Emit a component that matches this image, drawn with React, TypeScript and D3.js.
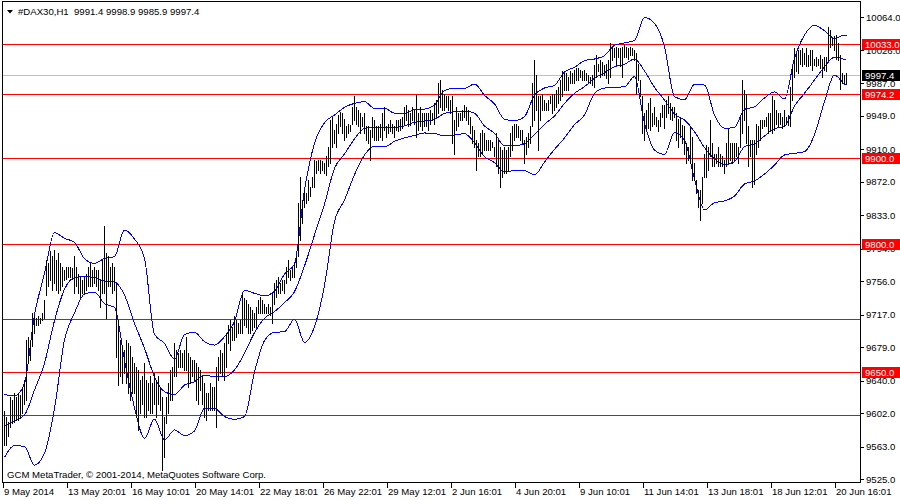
import React from "react";
import * as d3 from "d3";

// ---- data (DAX30, H1) ----
const highs = [
  9604, 9598, 9592, 9621, 9617, 9625, 9621, 9625, 9623, 9633,
  9641, 9687, 9691, 9687, 9719, 9715, 9713, 9715, 9713, 9719,
  9734, 9781, 9777, 9791, 9785, 9793, 9781, 9789, 9777, 9773,
  9769, 9773, 9773, 9773, 9771, 9785, 9773, 9765, 9761, 9758,
  9761, 9765, 9773, 9777, 9769, 9773, 9769, 9769, 9758, 9781,
  9820, 9789, 9785, 9773, 9777, 9773, 9754, 9711, 9687, 9680,
  9676, 9687, 9684, 9680, 9668, 9660, 9656, 9652, 9641, 9645,
  9660, 9641, 9637, 9645, 9637, 9649, 9641, 9645, 9633, 9621,
  9598, 9621, 9637, 9652, 9656, 9684, 9676, 9672, 9676, 9672,
  9676, 9691, 9672, 9668, 9664, 9664, 9660, 9656, 9652, 9645,
  9637, 9625, 9625, 9637, 9633, 9633,
  9656, 9668, 9676, 9672,
  9684, 9695, 9705, 9711, 9703, 9715, 9711, 9707, 9711, 9742,
  9736, 9734, 9730, 9726, 9722, 9719, 9726, 9734, 9738, 9734,
  9730, 9726, 9730, 9726, 9742, 9754, 9758, 9761, 9754, 9758,
  9758, 9773, 9781, 9769, 9773, 9777, 9785, 9847, 9878, 9851,
  9863, 9859, 9874, 9866, 9878, 9898, 9896, 9898, 9898, 9896,
  9894, 9902, 9913, 9944, 9948, 9933, 9940, 9950, 9954, 9952,
  9946, 9937, 9940, 9938, 9960, 9972, 9960, 9956, 9952, 9948,
  9952, 9937, 9937, 9933, 9948, 9944, 9937, 9937, 9940, 9952,
  9960, 9937, 9940, 9944, 9940, 9937, 9944, 9944, 9946, 9948,
  9960, 9962, 9956, 9952, 9960, 9956, 9974, 9952, 9960, 9952,
  9952, 9952, 9952, 9956, 9952, 9964, 9968, 9987, 9991, 9979,
  9975, 9972, 9972, 9968, 9972, 9944, 9960, 9952, 9952, 9956,
  9962, 9960, 9956, 9948, 9937, 9933, 9921, 9917, 9929, 9933,
  9929, 9921, 9921, 9921, 9919, 9913, 9929, 9921, 9913, 9909,
  9913, 9909, 9913, 9929, 9937, 9940, 9940, 9937, 9933, 9933,
  9921, 9925, 9929, 9937, 9987, 10014, 9997, 9972, 9972, 9975,
  9968, 9964, 9968, 9972, 9975, 9975, 9979, 9983, 9991, 10001,
  9999, 9999, 9995, 10001, 9999, 10003, 10005, 10005, 10003, 10001,
  10003, 9999, 9997, 9995, 9997, 10008, 10020, 10010, 10014, 10012,
  10008, 10010, 10014, 10034, 10030, 10028, 10030, 10028, 10028, 10030,
  10032, 10030, 10028, 10030, 10028, 10026, 10022, 10010, 9991, 9972,
  9952,
  9956, 9964, 9970, 9952, 9960, 9948, 9944, 9952, 9962,
  9962, 9968, 9972, 9964, 9960, 9960, 9952, 9946, 9948, 9938,
  9937, 9917, 9913, 9937, 9925, 9894, 9874, 9863, 9863, 9878,
  9905, 9915, 9913, 9944, 9917, 9905, 9905, 9913, 9905, 9902,
  9898, 9917, 9935, 9917, 9917, 9917, 9917, 9913, 9948, 9991,
  9979, 9975, 9937, 9921, 9921, 9921, 9940, 9937, 9944, 9944,
  9944, 9948, 9952, 9952, 9972, 9968, 9956, 9952, 9952, 9948,
  9956, 9948, 9950, 9983, 10007, 10028, 10022, 10026, 10026, 10028,
  10022, 10028, 10020, 10026, 10026, 10016, 10018, 10016, 10020, 10016,
  10018, 10018, 10053, 10049, 10040, 10042, 10044, 10034, 10020, 9999,
  9997, 9998.9,
];

const lows = [
  9565, 9565, 9575, 9586, 9590, 9592, 9594, 9594, 9596, 9602,
  9613, 9617, 9660, 9664, 9680, 9695, 9705, 9705, 9707, 9711,
  9713, 9740, 9750, 9758, 9746, 9754, 9746, 9742, 9746, 9750,
  9758, 9759, 9761, 9761, 9759, 9742, 9750, 9742, 9738, 9742,
  9742, 9746, 9750, 9750, 9750, 9754, 9750, 9746, 9726, 9742,
  9742, 9713, 9750, 9750, 9742, 9746, 9668, 9635, 9645, 9637,
  9649, 9637, 9625, 9617, 9625, 9625, 9598, 9582, 9602, 9613,
  9598, 9598, 9606, 9602, 9602, 9613, 9598, 9613, 9606, 9536,
  9551, 9590, 9602, 9617, 9617, 9645, 9645, 9656, 9656, 9656,
  9652, 9652, 9633, 9637, 9645, 9641, 9617, 9613, 9629, 9613,
  9598, 9594, 9606, 9606, 9606, 9606,
  9586, 9641, 9649, 9645,
  9641, 9656, 9684, 9676, 9687, 9687, 9691, 9695, 9695, 9695,
  9705, 9703, 9695, 9695, 9699, 9703, 9703, 9719, 9719, 9719,
  9719, 9719, 9719, 9717, 9707, 9730, 9738, 9742, 9742, 9746,
  9742, 9754, 9761, 9758, 9761, 9761, 9773, 9785, 9804, 9824,
  9843, 9847, 9851, 9855, 9866, 9866, 9882, 9886, 9882, 9886,
  9882, 9880, 9890, 9894, 9913, 9917, 9913, 9929, 9937, 9929,
  9921, 9925, 9929, 9931, 9940, 9944, 9940, 9937, 9929, 9937,
  9929, 9921, 9917, 9898, 9925, 9921, 9921, 9921, 9925, 9921,
  9933, 9925, 9929, 9931, 9929, 9925, 9933, 9931, 9933, 9935,
  9940, 9944, 9937, 9938, 9944, 9940, 9925, 9933, 9937, 9933,
  9937, 9937, 9933, 9940, 9944, 9940, 9948, 9952, 9960, 9956,
  9956, 9960, 9956, 9952, 9917, 9905, 9933, 9937, 9944, 9944,
  9948, 9944, 9940, 9929, 9917, 9913, 9886, 9902, 9902, 9905,
  9909, 9909, 9909, 9909, 9913, 9902, 9890, 9882, 9866, 9878,
  9882, 9882, 9886, 9902, 9909, 9921, 9925, 9925, 9921, 9917,
  9894, 9905, 9913, 9917, 9937, 9944, 9956, 9909, 9944, 9956,
  9956, 9956, 9956, 9964, 9952, 9956, 9960, 9964, 9968, 9972,
  9979, 9979, 9979, 9987, 9987, 9987, 9991, 9991, 9995, 9991,
  9991, 9991, 9989, 9987, 9985, 9983, 9995, 10001, 9995, 9997,
  9997, 9993, 9987, 9995, 10014, 10018, 10010, 10018, 10007, 9995,
  10018, 10018, 10016, 10020, 10020, 10014, 9975, 9991, 9972, 9929,
  9921,
  9933, 9935, 9933, 9937, 9940, 9937, 9931, 9937, 9948,
  9935, 9948, 9952, 9946, 9944, 9948, 9921, 9913, 9925, 9917,
  9905, 9894, 9898, 9894, 9874, 9874, 9859, 9843, 9828, 9847,
  9878, 9878, 9886, 9902, 9890, 9890, 9894, 9890, 9890, 9890,
  9882, 9890, 9894, 9898, 9894, 9898, 9902, 9894, 9913, 9929,
  9944, 9917, 9890, 9902, 9866, 9870, 9905, 9913, 9921, 9935,
  9937, 9937, 9929, 9933, 9929, 9933, 9940, 9937, 9940, 9935,
  9937, 9940, 9938, 9937, 9968, 9995, 10001, 9999, 10010, 10007,
  10010, 10007, 10007, 10008, 10003, 10008, 10007, 10008, 10005, 9995,
  10003, 10001, 10014, 10030, 10032, 10026, 10016, 10014, 9981, 9987,
  9987, 9985.9,
];

// Bollinger bands, sampled at these bar indices
const bandIndex = [
  0, 5, 10, 15, 20, 25, 30, 35, 40, 45,
  50, 55, 60, 65, 70, 75, 80, 85, 90, 95,
  100, 105, 110, 115, 120, 125, 130, 135, 140, 145,
  150, 155, 160, 165, 170, 175, 180, 185, 190, 195,
  200, 205, 210, 215, 220, 225, 230, 235, 240, 245,
  250, 255, 260, 265, 270, 275, 280, 285, 290, 295,
  300, 305, 310, 315, 320, 325, 330, 335, 340, 345,
  350, 355, 360, 365, 370, 375, 380, 385, 390, 395,
  400, 405, 410, 415, 420, 421,
];
const upperBand = [
  9623.9, 9622.0, 9636.8, 9716.6, 9765.2, 9812.7, 9806.1, 9801.4, 9782.4, 9776.9,
  9782.7, 9784.7, 9815.8, 9805.3, 9782.7, 9694.0, 9683.5, 9664.8, 9694.0, 9696.3,
  9685.4, 9681.5, 9691.3, 9708.8, 9745.4, 9741.9, 9738.8, 9744.6, 9764.4, 9776.1,
  9862.5, 9917.0, 9941.2, 9950.1, 9959.1, 9963.7, 9965.7, 9957.9, 9957.9, 9952.1,
  9951.3, 9956.7, 9957.1, 9961.8, 9978.5, 9981.3, 9981.3, 9986.3, 9973.1, 9963.0,
  9945.1, 9943.5, 9948.2, 9973.5, 9981.6, 9984.8, 10000.3, 10005.8, 10013.6, 10015.5,
  10019.4, 10031.5, 10034.2, 10037.3, 10064.0, 10057.2, 10029.9, 9971.5, 9968.0, 9985.9,
  9985.1, 9950.1, 9934.5, 9935.7, 9956.7, 9959.5, 9970.0, 9977.0, 9968.8, 10016.3,
  10043.5, 10054.8, 10048.6, 10039.6, 10043.5, 10043.5,
];
const middleBand = [
  9587.0, 9593.2, 9599.8, 9629.0, 9660.1, 9710.0, 9746.6, 9760.2, 9761.7, 9760.2,
  9756.3, 9755.1, 9739.9, 9706.9, 9677.7, 9644.6, 9627.1, 9623.6, 9634.8, 9638.7,
  9646.5, 9644.6, 9644.6, 9652.4, 9671.8, 9696.0, 9712.7, 9720.5, 9731.0, 9743.8,
  9773.8, 9810.0, 9846.2, 9887.8, 9904.6, 9922.1, 9934.5, 9935.7, 9935.3, 9935.7,
  9937.3, 9941.6, 9943.1, 9945.1, 9952.1, 9954.0, 9954.8, 9952.1, 9937.3, 9928.7,
  9914.3, 9914.3, 9916.6, 9927.5, 9939.2, 9949.0, 9963.7, 9975.4, 9983.2, 9992.9,
  9999.6, 10006.6, 10009.3, 10015.5, 10001.5, 9982.4, 9967.6, 9951.3, 9944.3, 9930.6,
  9912.0, 9898.7, 9892.1, 9895.6, 9913.1, 9916.3, 9925.6, 9934.2, 9936.5, 9960.6,
  9975.4, 9991.0, 10006.6, 10017.5, 10015.1, 10014.3,
];
const lowerBand = [
  9550.4, 9564.4, 9562.8, 9541.4, 9555.1, 9607.2, 9687.4, 9718.9, 9741.1, 9743.4,
  9729.8, 9725.5, 9664.0, 9608.4, 9572.6, 9595.1, 9570.6, 9582.3, 9575.7, 9581.1,
  9607.6, 9607.6, 9597.9, 9594.8, 9597.9, 9650.0, 9686.6, 9696.3, 9697.1, 9711.5,
  9684.7, 9703.0, 9751.2, 9825.6, 9850.9, 9880.4, 9903.4, 9913.5, 9912.8, 9919.4,
  9923.3, 9926.4, 9929.1, 9928.7, 9925.6, 9926.8, 9928.3, 9917.8, 9901.5, 9894.5,
  9883.6, 9885.1, 9885.1, 9880.1, 9895.2, 9910.0, 9923.3, 9938.8, 9950.1, 9975.4,
  9981.6, 9982.4, 9983.2, 9994.9, 9940.4, 9909.2, 9904.2, 9929.5, 9920.9, 9875.4,
  9839.2, 9847.8, 9849.7, 9855.5, 9869.5, 9873.0, 9881.2, 9891.7, 9903.4, 9905.4,
  9907.3, 9927.2, 9965.7, 9996.8, 9986.3, 9985.1,
];

const priceTicks = [10064, 10026, 9987, 9949, 9910, 9872, 9833, 9794, 9756, 9717, 9679, 9640, 9602, 9563, 9525];
const levelLines = [10033, 9974.2, 9900, 9800, 9711.5, 9650, 9600];
const labeledLevels = [10033, 9974.2, 9900, 9800, 9650];
const bidPrice = 9997.4;
const timeLabels = [
  "9 May 2014", "13 May 20:01", "16 May 10:01", "20 May 14:01", "22 May 18:01",
  "26 May 22:01", "29 May 12:01", "2 Jun 16:01", "4 Jun 20:01", "9 Jun 10:01",
  "11 Jun 14:01", "13 Jun 18:01", "18 Jun 12:01", "20 Jun 16:01",
];
const timeLabelIndex = [0, 32, 64, 96, 128, 160, 192, 224, 256, 288, 320, 352, 384, 416];
const title = "#DAX30,H1  9991.4 9998.9 9985.9 9997.4";
const footer = "GCM MetaTrader, \u00A9 2001-2014, MetaQuotes Software Corp.";

const FONT = "'Liberation Sans', Arial, sans-serif";
const FS = 9.6;

export default function App() {
  const left = 2, top = 1, right = 860, bottom = 482;
  const x = d3.scaleLinear().domain([0, highs.length - 1]).range([4, 4 + 2 * (highs.length - 1)]);
  const y = d3.scaleLinear().domain([9520.4, 10084.4]).range([483, 0]);
  const py = (p: number) => Math.round(y(p)) + 0.5;
  const px = (i: number) => Math.round(x(i)) + 0.5;

  const bandLine = (vals: number[]) =>
    d3
      .line<number>()
      .x((_, i) => x(bandIndex[i]) + 0.5)
      .y((d) => y(d))
      .curve(d3.curveMonotoneX)(vals) || "";

  return (
    <svg
      width={900}
      height={500}
      style={{ position: "absolute", left: 0, top: 0, background: "#fff" }}
      fontFamily={FONT}
      fontSize={FS}
    >
      <rect x={0} y={0} width={900} height={500} fill="#fff" />
      <g shapeRendering="crispEdges">
        <line x1={left} x2={right} y1={py(bidPrice)} y2={py(bidPrice)} stroke="#c0c0c0" />
        {levelLines.map((v) => (
          <line key={v} x1={left} x2={right} y1={py(v)} y2={py(v)} stroke="#ff0000" />
        ))}
      </g>
      <g fill="none" stroke="#0000ff" strokeWidth={1} shapeRendering="crispEdges">
        <path d={bandLine(upperBand)} />
        <path d={bandLine(middleBand)} />
        <path d={bandLine(lowerBand)} />
      </g>
      <g stroke="#000" shapeRendering="crispEdges">
        {highs.map((h, i) => {
          const y1 = Math.round(y(h));
          const y2 = Math.max(Math.round(y(lows[i])), y1 + 1);
          return <line key={i} x1={px(i)} x2={px(i)} y1={y1} y2={y2 + 1} />;
        })}
      </g>
      <g stroke="#000" fill="none" shapeRendering="crispEdges">
        <rect x={left + 0.5} y={top + 0.5} width={right - left} height={bottom - top} />
      </g>
      <g shapeRendering="crispEdges">
        {priceTicks.map((t) => (
          <g key={t}>
            <line x1={861} x2={864} y1={py(t)} y2={py(t)} stroke="#000" />
            <text x={866} y={y(t) + 3.5} fill="#000">
              {t.toFixed(1)}
            </text>
          </g>
        ))}
        {labeledLevels.map((v) => (
          <g key={v}>
            <rect x={862} y={Math.round(y(v)) - 5} width={38} height={11} fill="#ff0000" />
            <text x={865} y={Math.round(y(v)) + 4} fill="#fff">
              {v.toFixed(1)}
            </text>
          </g>
        ))}
        <rect x={862} y={Math.round(y(bidPrice)) - 5} width={38} height={11} fill="#000" />
        <text x={865} y={Math.round(y(bidPrice)) + 4} fill="#fff">
          {bidPrice.toFixed(1)}
        </text>
      </g>
      <g shapeRendering="crispEdges">
        {timeLabelIndex.map((idx, k) => {
          const tx = Math.round(x(idx)) - 1;
          return (
            <g key={idx}>
              <line x1={tx + 0.5} x2={tx + 0.5} y1={483} y2={488} stroke="#000" />
              <text x={tx + 1} y={495} fill="#000">
                {timeLabels[k]}
              </text>
            </g>
          );
        })}
      </g>
      <path d="M7,10 L13,10 L10,13.5 Z" fill="#000" />
      <text x={18} y={15} fill="#000" style={{ whiteSpace: "pre" }}>
        {title}
      </text>
      <text x={7} y={478} fill="#000">
        {footer}
      </text>
    </svg>
  );
}
